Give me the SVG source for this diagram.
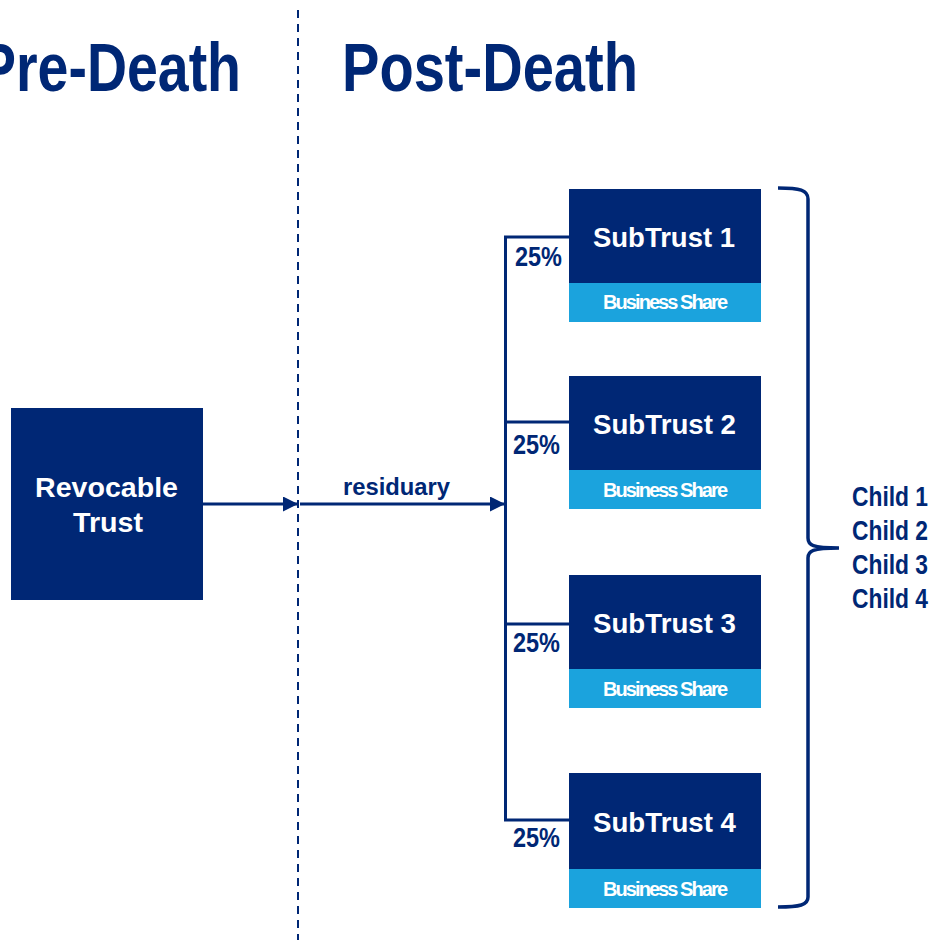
<svg xmlns="http://www.w3.org/2000/svg" width="932" height="940" viewBox="0 0 932 940">
  <style>
    .navy { fill: #002775; }
    .sky { fill: #1BA3DD; }
    .txt { font-family: "Liberation Sans Narrow", "Liberation Sans", Arial, sans-serif; font-weight: bold; }
    .wide { font-family: "Liberation Sans", Arial, sans-serif; font-weight: bold; }
    .title { font-size: 69px; fill: #002775; }
    .white { fill: #ffffff; }
    .dark { fill: #002775; }
    .line { stroke: #002775; stroke-width: 3; fill: none; }
  </style>
  <defs>
    <marker id="arrow" markerUnits="userSpaceOnUse" markerWidth="16" markerHeight="16" refX="15" refY="7.5" orient="auto">
      <path d="M0,0 L15,7.5 L0,15 z" fill="#002775"/>
    </marker>
  </defs>
  <rect width="932" height="940" fill="#ffffff"/>

  <!-- headings and divider -->
  <g id="headings">
    <text class="txt title" x="-21" y="91" textLength="262" lengthAdjust="spacingAndGlyphs">Pre-Death</text>
    <text class="txt title" x="342" y="91" textLength="296" lengthAdjust="spacingAndGlyphs">Post-Death</text>
    <line x1="298" y1="10" x2="298" y2="940" stroke="#002775" stroke-width="2" stroke-dasharray="8 6"/>
  </g>

  <!-- revocable trust -->
  <g id="revocable-trust">
    <rect class="navy" x="11" y="408" width="192" height="192"/>
    <text class="wide white" x="35" y="497" font-size="28" textLength="143" lengthAdjust="spacingAndGlyphs">Revocable</text>
    <text class="wide white" x="73" y="532" font-size="28" textLength="70" lengthAdjust="spacingAndGlyphs">Trust</text>
  </g>

  <!-- subtrusts -->
  <g id="subtrust-1">
    <rect class="navy" x="569" y="189" width="192" height="94"/>
    <rect class="sky" x="569" y="283" width="192" height="39"/>
    <text class="wide white" x="593" y="247" font-size="27" textLength="142" lengthAdjust="spacingAndGlyphs">SubTrust 1</text>
    <text class="wide white" x="603" y="309" font-size="20" textLength="125" lengthAdjust="spacing">Business Share</text>
  </g>
  <g id="subtrust-2">
    <rect class="navy" x="569" y="376" width="192" height="94"/>
    <rect class="sky" x="569" y="470" width="192" height="39"/>
    <text class="wide white" x="593" y="434" font-size="27" textLength="143" lengthAdjust="spacingAndGlyphs">SubTrust 2</text>
    <text class="wide white" x="603" y="497" font-size="20" textLength="125" lengthAdjust="spacing">Business Share</text>
  </g>
  <g id="subtrust-3">
    <rect class="navy" x="569" y="575" width="192" height="94"/>
    <rect class="sky" x="569" y="669" width="192" height="39"/>
    <text class="wide white" x="593" y="633" font-size="27" textLength="143" lengthAdjust="spacingAndGlyphs">SubTrust 3</text>
    <text class="wide white" x="603" y="696" font-size="20" textLength="125" lengthAdjust="spacing">Business Share</text>
  </g>
  <g id="subtrust-4">
    <rect class="navy" x="569" y="773" width="192" height="96"/>
    <rect class="sky" x="569" y="869" width="192" height="39"/>
    <text class="wide white" x="593" y="832" font-size="27" textLength="143" lengthAdjust="spacingAndGlyphs">SubTrust 4</text>
    <text class="wide white" x="603" y="896" font-size="20" textLength="125" lengthAdjust="spacing">Business Share</text>
  </g>

  <!-- beneficiaries -->
  <g id="children">
    <text class="txt dark" x="852" y="506" font-size="27" textLength="76" lengthAdjust="spacingAndGlyphs">Child 1</text>
    <text class="txt dark" x="852" y="540" font-size="27" textLength="76" lengthAdjust="spacingAndGlyphs">Child 2</text>
    <text class="txt dark" x="852" y="574" font-size="27" textLength="76" lengthAdjust="spacingAndGlyphs">Child 3</text>
    <text class="txt dark" x="852" y="608" font-size="27" textLength="76" lengthAdjust="spacingAndGlyphs">Child 4</text>
  </g>

  <!-- connectors -->
  <g id="connectors">
    <line class="line" x1="203" y1="504" x2="298" y2="504" marker-end="url(#arrow)"/>
    <line class="line" x1="300" y1="504" x2="505" y2="504" marker-end="url(#arrow)"/>
    <text class="txt dark" x="343" y="495" font-size="23" textLength="107" lengthAdjust="spacingAndGlyphs">residuary</text>

    <path class="line" d="M569,237 H505.5 V820 H569"/>
    <line class="line" x1="505.5" y1="422" x2="569" y2="422"/>
    <line class="line" x1="505.5" y1="624" x2="569" y2="624"/>

    <text class="txt dark" x="515" y="266" font-size="28" textLength="47" lengthAdjust="spacingAndGlyphs">25%</text>
    <text class="txt dark" x="513" y="454" font-size="28" textLength="47" lengthAdjust="spacingAndGlyphs">25%</text>
    <text class="txt dark" x="513" y="652" font-size="28" textLength="47" lengthAdjust="spacingAndGlyphs">25%</text>
    <text class="txt dark" x="513" y="847" font-size="28" textLength="47" lengthAdjust="spacingAndGlyphs">25%</text>

    <path d="M778,188 C800,188 808,190 808,199 L808,538 C808,545 812,548 839,548 C812,548 808,551 808,558 L808,897 C808,905 800,907 778,907" fill="none" stroke="#002775" stroke-width="3.5"/>
  </g>
</svg>
